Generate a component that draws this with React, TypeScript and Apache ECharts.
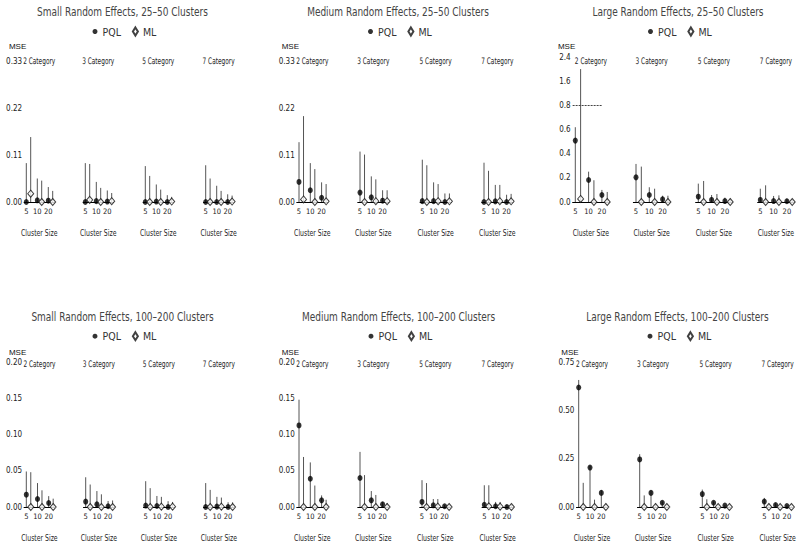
import React, { useEffect, useRef } from 'react';
import * as echarts from 'echarts';

// ---------- data ----------
const CATEGORIES = ['2 Category', '3 Category', '5 Category', '7 Category'];
const CLUSTER_SIZES = ['5', '10', '20'];
const X_NAME = 'Cluster Size';
const Y_NAME = 'MSE';
const SERIES_NAMES = ['PQL', 'ML'];
const PANEL_TITLES = [
  'Small Random Effects, 25–50 Clusters',
  'Medium Random Effects, 25–50 Clusters',
  'Large Random Effects, 25–50 Clusters',
  'Small Random Effects, 100–200 Clusters',
  'Medium Random Effects, 100–200 Clusters',
  'Large Random Effects, 100–200 Clusters',
];

// values: [category][cluster size 5,10,20]
const smallFewPqlMean = [[0, 0.004, 0.003], [0, 0.002, 0.001], [0, 0.001, 0], [0, 0, 0]];
const smallFewPqlUpper = [[0.091, 0.055, 0.035], [0.091, 0.047, 0.027], [0.084, 0.041, 0.016], [0.086, 0.038, 0.018]];
const smallFewMlMean = [[0.0195, 0, 0], [0.005, 0, 0.002], [0, 0, 0.001], [0, 0, 0.001]];
const smallFewMlUpper = [[0.152, 0.05, 0.026], [0.089, 0.033, 0.021], [0.061, 0.029, 0.012], [0.055, 0.026, 0.015]];

const mediumFewPqlMean = [[0.047, 0.0275, 0.01], [0.022, 0.011, 0.003], [0.002, 0.002, 0], [0, 0.0015, 0]];
const mediumFewPqlUpper = [[0.14, 0.091, 0.046], [0.118, 0.06, 0.0275], [0.099, 0.046, 0.02], [0.092, 0.04, 0.017]];
const mediumFewMlMean = [[0.006, 0, 0.0015], [0, 0.002, 0.002], [0, 0.002, 0.0015], [0, 0.002, 0.0015]];
const mediumFewMlUpper = [[0.201, 0.077, 0.042], [0.111, 0.053, 0.0275], [0.086, 0.042, 0.02], [0.073, 0.04, 0.019]];

const largeFewPqlMean = [[0.508, 0.182, 0.058], [0.204, 0.058, 0.022], [0.044, 0.017, 0.008], [0.017, 0.008, 0.006]];
const largeFewPqlUpper = [[0.619, 0.251, 0.1], [0.315, 0.122, 0.052], [0.152, 0.058, 0.036], [0.11, 0.05, 0.028]];
const largeFewMlMean = [[0.025, 0, 0], [0, 0, 0], [0, 0, 0], [0, 0, 0]];
const largeFewMlUpper = [[2.0, 0.18, 0.083], [0.293, 0.11, 0.052], [0.174, 0.066, 0.028], [0.138, 0.055, 0.022]];

const smallManyPqlMean = [[0.017, 0.011, 0.0055], [0.0074, 0.0037, 0.001], [0.002, 0.0014, 0], [0, 0.0005, 0]];
const smallManyPqlUpper = [[0.049, 0.033, 0.015], [0.041, 0.022, 0.0083], [0.0356, 0.0152, 0.008], [0.033, 0.014, 0.0065]];
const smallManyMlMean = [[0, 0, 0], [0, 0, 0], [0, 0.0005, 0.0005], [0, 0.0005, 0]];
const smallManyMlUpper = [[0.048, 0.023, 0.0115], [0.031, 0.0175, 0.009], [0.026, 0.014, 0.007], [0.0236, 0.013, 0.0065]];

const mediumManyPqlMean = [[0.1125, 0.039, 0.0092], [0.04, 0.0092, 0.0037], [0.007, 0.0023, 0.001], [0.003, 0.001, 0]];
const mediumManyPqlUpper = [[0.148, 0.0615, 0.016], [0.076, 0.022, 0.007], [0.037, 0.011, 0.003], [0.03, 0.007, 0.003]];
const mediumManyMlMean = [[0, 0, 0], [0, 0, 0], [0, 0.0005, 0], [0.001, 0.0005, 0]];
const mediumManyMlUpper = [[0.069, 0.0296, 0.01], [0.044, 0.0166, 0.0055], [0.033, 0.011, 0.0023], [0.03, 0.007, 0.003]];

const largeManyPqlMean = [[0.618, 0.204, 0.073], [0.246, 0.073, 0.022], [0.067, 0.022, 0.007], [0.028, 0.01, 0.005]];
const largeManyPqlUpper = [[0.657, 0.213, 0.087], [0.273, 0.085, 0.029], [0.09, 0.029, 0.01], [0.047, 0.019, 0.009]];
const largeManyMlMean = [[0, 0, 0], [0, 0, 0], [0, 0, 0], [0, 0, 0]];
const largeManyMlUpper = [[0.125, 0.038, 0.017], [0.06, 0.017, 0.0087], [0.04, 0.01, 0.007], [0.017, 0.01, 0.007]];

// y axis scales per panel
const Y_MAX = [0.33, 0.33, 1.2, 0.2, 0.2, 0.75];
const Y_INTERVAL = [0.11, 0.11, 0.2, 0.05, 0.05, 0.25];
const Y_DECIMALS = [2, 2, 1, 2, 2, 2];
const AXIS_BREAK = 0.8; // large 25-50 panel: axis compressed above 0.8
const BREAK_FACTOR = 4;
const REF_LINE = 0.8;

// ---------- layout ----------
const LAYOUT = [
  { cx: 122.5, titleY: 12.3, legendY: 32, top: 61, bottom: 202, starts: [26.3, 85.3, 145.3, 205.7], unit: 11 },
  { cx: 398, titleY: 12.3, legendY: 32, top: 61, bottom: 202, starts: [299, 360, 422.3, 484], unit: 11.3 },
  { cx: 678, titleY: 12.3, legendY: 32, top: 57, bottom: 202, starts: [575.3, 636, 698.3, 760.3], unit: 13.3 },
  { cx: 122.5, titleY: 316.7, legendY: 336.7, top: 362, bottom: 507, starts: [26.3, 85.7, 145.7, 205.7], unit: 11.2 },
  { cx: 398.5, titleY: 316.7, legendY: 336.7, top: 362, bottom: 507, starts: [299, 360, 422, 484.3], unit: 11.3 },
  { cx: 677.5, titleY: 316.7, legendY: 336.7, top: 362, bottom: 507, starts: [578.7, 639.7, 702.3, 764.3], unit: 11.3 },
];
const MSE_Y = [45.5, 45.5, 45.5, 351.7, 351.7, 351.7];
const CAT_Y = [61, 61, 61, 364, 364, 364];

const X_MIN = -0.2;
const X_MAX = 2.55;
const ML_OFFSET = 0.4;

const COND = '"DejaVu Sans Condensed", "DejaVu Sans", sans-serif';
const SANS = '"Liberation Sans", Arial, sans-serif';

const PANELS = [
  [smallFewPqlMean, smallFewPqlUpper, smallFewMlMean, smallFewMlUpper],
  [mediumFewPqlMean, mediumFewPqlUpper, mediumFewMlMean, mediumFewMlUpper],
  [largeFewPqlMean, largeFewPqlUpper, largeFewMlMean, largeFewMlUpper],
  [smallManyPqlMean, smallManyPqlUpper, smallManyMlMean, smallManyMlUpper],
  [mediumManyPqlMean, mediumManyPqlUpper, mediumManyMlMean, mediumManyMlUpper],
  [largeManyPqlMean, largeManyPqlUpper, largeManyMlMean, largeManyMlUpper],
];

function scaledText(text: string, x: number, y: number, fontSize: number, scaleX: number, fill: string) {
  return {
    type: 'text',
    x,
    y,
    scaleX,
    silent: true,
    style: { text, fontFamily: COND, fontSize, fill, align: 'center', verticalAlign: 'middle' },
  };
}

function buildOption() {
  const legend: any[] = [];
  const grid: any[] = [];
  const xAxis: any[] = [];
  const yAxis: any[] = [];
  const series: any[] = [];
  const graphic: any[] = [];

  PANELS.forEach((panel, p) => {
    const L = LAYOUT[p];
    const broken = p === 2;
    const tr = (v: number) => (broken && v > AXIS_BREAK ? AXIS_BREAK + (v - AXIS_BREAK) / BREAK_FACTOR : v);
    const [pqlMean, pqlUpper, mlMean, mlUpper] = panel;

    graphic.push(scaledText(PANEL_TITLES[p], L.cx, L.titleY, 12.5, 0.8, '#444'));
    legend.push({
      data: SERIES_NAMES,
      left: L.cx - 30,
      top: L.legendY - 6,
      padding: 0,
      itemGap: 11,
      itemWidth: 5,
      itemHeight: 8,
      symbolKeepAspect: false,
      selectedMode: false,
      textStyle: { fontFamily: COND, fontSize: 10.5, color: '#333' },
    });

    CATEGORIES.forEach((cat, c) => {
      const g = p * 4 + c;
      const x0 = L.starts[c];
      const left = x0 + X_MIN * L.unit;
      const width = (X_MAX - X_MIN) * L.unit;
      grid.push({ left, top: L.top, width, height: L.bottom - L.top, containLabel: false });
      xAxis.push({
        gridIndex: g,
        type: 'value',
        min: X_MIN,
        max: X_MAX,
        axisLine: { show: true, onZero: false, lineStyle: { color: '#000', width: 1 } },
        axisTick: { show: false },
        splitLine: { show: false },
        axisLabel: {
          customValues: [0, 1, 2],
          formatter: (v: number) => CLUSTER_SIZES[Math.round(v)] ?? '',
          fontFamily: COND,
          fontSize: 7.5,
          color: '#222',
          margin: 5,
        },
      });
      yAxis.push({
        gridIndex: g,
        type: 'value',
        min: 0,
        max: Y_MAX[p],
        interval: Y_INTERVAL[p],
        show: c === 0,
        axisLine: { show: false },
        axisTick: { show: false },
        splitLine: { show: false },
        axisLabel: {
          margin: 2,
          fontFamily: COND,
          fontSize: 8,
          color: '#222',
          formatter: (v: number) => {
            const real = broken && v > AXIS_BREAK + 1e-9 ? AXIS_BREAK + (v - AXIS_BREAK) * BREAK_FACTOR : v;
            return real.toFixed(Y_DECIMALS[p]);
          },
        },
        name: c === 0 ? Y_NAME : '',
        nameLocation: 'end',
        nameGap: L.top - (MSE_Y[p] + 4.5),
        nameTextStyle: { fontFamily: SANS, fontSize: 8, color: '#111', align: 'right', verticalAlign: 'bottom' },
      });

      graphic.push(scaledText(cat, left + width / 2, CAT_Y[p], 9, 0.72, '#222'));
      graphic.push(scaledText(X_NAME, left + width / 2, L.bottom + 30.5, 9.5, 0.72, '#222'));

      const bars: number[][] = [];
      CLUSTER_SIZES.forEach((_, i) => {
        bars.push([i, tr(pqlUpper[c][i])]);
        bars.push([i + ML_OFFSET, tr(mlUpper[c][i])]);
      });
      series.push({
        type: 'custom',
        name: 'range',
        xAxisIndex: g,
        yAxisIndex: g,
        silent: true,
        z: 1,
        data: bars,
        renderItem: (params: any, api: any) => {
          const a = api.coord([api.value(0), 0]);
          const b = api.coord([api.value(0), api.value(1)]);
          return {
            type: 'line',
            shape: { x1: a[0], y1: a[1], x2: b[0], y2: b[1] },
            style: { stroke: '#555', lineWidth: 1 },
          };
        },
        markLine:
          broken && c === 0
            ? {
                silent: true,
                symbol: ['none', 'none'],
                label: { show: false },
                lineStyle: { color: '#444', width: 1, type: [2, 1] },
                data: [[{ coord: [X_MIN, REF_LINE] }, { coord: [2.03, REF_LINE] }]],
              }
            : undefined,
      });
      series.push({
        type: 'scatter',
        name: 'PQL',
        xAxisIndex: g,
        yAxisIndex: g,
        z: 3,
        symbol: 'circle',
        symbolSize: [5, 6],
        itemStyle: { color: '#000' },
        data: CLUSTER_SIZES.map((_, i) => [i, tr(pqlMean[c][i])]),
      });
      series.push({
        type: 'scatter',
        name: 'ML',
        xAxisIndex: g,
        yAxisIndex: g,
        z: 4,
        symbol: 'diamond',
        symbolSize: [6, 7],
        itemStyle: { color: '#fff', borderColor: '#111', borderWidth: 1 },
        data: CLUSTER_SIZES.map((_, i) => [i + ML_OFFSET, tr(mlMean[c][i])]),
      });
    });
  });

  return {
    animation: false,
    backgroundColor: '#fff',
    legend,
    grid,
    xAxis,
    yAxis,
    series,
    graphic,
  };
}

export default function App() {
  const ref = useRef<HTMLDivElement>(null);
  useEffect(() => {
    if (!ref.current) return;
    const chart = echarts.init(ref.current, null, { renderer: 'svg' });
    chart.setOption(buildOption() as any);
    return () => chart.dispose();
  }, []);
  return <div ref={ref} style={{ position: 'fixed', left: 0, top: 0, width: 800, height: 546 }} />;
}
